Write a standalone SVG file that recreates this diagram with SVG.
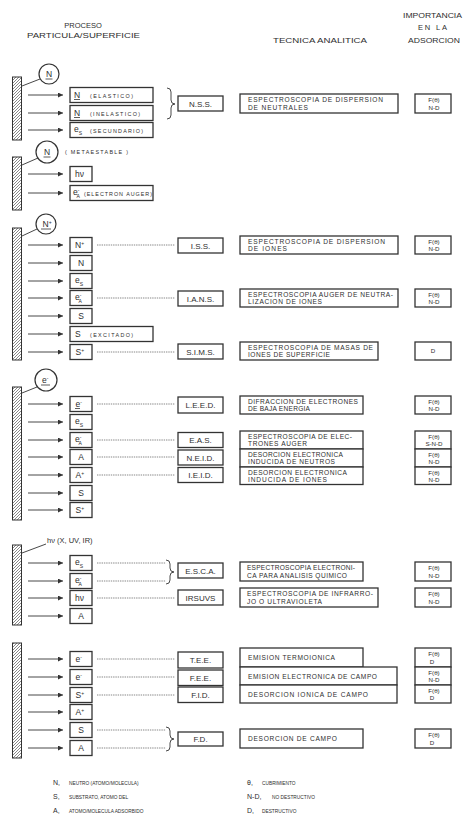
<svg xmlns="http://www.w3.org/2000/svg" width="465" height="818" viewBox="0 0 465 818">
<style>
.t{font-family:"Liberation Sans",Arial,sans-serif;fill:#2e2e2e}
.h{font-size:7.5px}
.sy{font-size:8.5px}
.sp{font-size:5px}
.sb{font-size:5px}
.pa{font-size:5.4px}
.ab{font-size:8px;text-anchor:middle}
.tx{font-size:6.6px}
.im{font-size:6.2px;text-anchor:middle}
.lg1{font-size:7px}
.lg2{font-size:4.8px}
.bx{fill:#fff;stroke:#333;stroke-width:1.3}
.bar{fill:url(#hatch);stroke:#333;stroke-width:1}
.cir{fill:#fff;stroke:#333;stroke-width:1.2}
.ul{stroke:#333;stroke-width:0.8}
.arr{stroke:#333;stroke-width:0.9;marker-end:url(#ah)}
.dot{stroke:#555;stroke-width:0.7;stroke-dasharray:1.4 0.9;fill:none}
.br{stroke:#333;stroke-width:0.9;fill:none}
.ln{stroke:#333;stroke-width:0.9}
</style>
<defs>
<pattern id="hatch" patternUnits="userSpaceOnUse" width="3" height="3"><path d="M-0.75,0.75 L0.75,-0.75 M0,3 L3,0 M2.25,3.75 L3.75,2.25" stroke="#555" stroke-width="0.7"/></pattern>
<marker id="ah" viewBox="0 0 10 10" refX="10" refY="5" markerUnits="userSpaceOnUse" markerWidth="8" markerHeight="5" orient="auto"><path d="M0,0 L10,5 L0,10 z" fill="#333"/></marker>
</defs>
<rect width="465" height="818" fill="#fff"/>

<g id="header">
<text class="t h" x="83" y="28" text-anchor="middle">PROCESO</text>
<text class="t h" x="27" y="38" textLength="113" lengthAdjust="spacingAndGlyphs">PARTICULA/SUPERFICIE</text>
<text class="t h" x="273" y="43" textLength="94" lengthAdjust="spacingAndGlyphs">TECNICA  ANALITICA</text>
<text class="t h" x="403" y="18" textLength="59" lengthAdjust="spacingAndGlyphs">IMPORTANCIA</text>
<text class="t h" x="418" y="30" textLength="29" lengthAdjust="spacing">EN LA</text>
<text class="t h" x="408" y="43" textLength="52" lengthAdjust="spacingAndGlyphs">ADSORCION</text>
</g>

<g id="connectors">
<line class="ln" x1="40" y1="79" x2="22" y2="86"/>
<line class="ln" x1="38" y1="158" x2="22" y2="165"/>
<line class="ln" x1="37" y1="229" x2="22" y2="236"/>
<line class="ln" x1="37" y1="387" x2="22" y2="393"/>
<line class="ln" x1="46" y1="544" x2="22" y2="553"/>
<line class="arr" x1="28" y1="95" x2="63" y2="95"/>
<line class="arr" x1="28" y1="113" x2="63" y2="113"/>
<line class="arr" x1="28" y1="130" x2="63" y2="130"/>
<line class="arr" x1="28" y1="174" x2="63" y2="174"/>
<line class="arr" x1="28" y1="193" x2="63" y2="193"/>
<line class="arr" x1="28" y1="245" x2="63" y2="245"/>
<line class="arr" x1="28" y1="263" x2="63" y2="263"/>
<line class="arr" x1="28" y1="281" x2="63" y2="281"/>
<line class="arr" x1="28" y1="298" x2="63" y2="298"/>
<line class="arr" x1="28" y1="316" x2="63" y2="316"/>
<line class="arr" x1="28" y1="334" x2="63" y2="334"/>
<line class="arr" x1="28" y1="352" x2="63" y2="352"/>
<line class="arr" x1="28" y1="404" x2="63" y2="404"/>
<line class="arr" x1="28" y1="422" x2="63" y2="422"/>
<line class="arr" x1="28" y1="440" x2="63" y2="440"/>
<line class="arr" x1="28" y1="457" x2="63" y2="457"/>
<line class="arr" x1="28" y1="475" x2="63" y2="475"/>
<line class="arr" x1="28" y1="493" x2="63" y2="493"/>
<line class="arr" x1="28" y1="510" x2="63" y2="510"/>
<line class="arr" x1="28" y1="563" x2="63" y2="563"/>
<line class="arr" x1="28" y1="581" x2="63" y2="581"/>
<line class="arr" x1="28" y1="598" x2="63" y2="598"/>
<line class="arr" x1="28" y1="616" x2="63" y2="616"/>
<line class="arr" x1="28" y1="659" x2="63" y2="659"/>
<line class="arr" x1="28" y1="677" x2="63" y2="677"/>
<line class="arr" x1="28" y1="695" x2="63" y2="695"/>
<line class="arr" x1="28" y1="712" x2="63" y2="712"/>
<line class="arr" x1="28" y1="730" x2="63" y2="730"/>
<line class="arr" x1="28" y1="748" x2="63" y2="748"/>
<line class="dot" x1="97" y1="245" x2="175" y2="245"/>
<line class="dot" x1="97" y1="298" x2="175" y2="298"/>
<line class="dot" x1="97" y1="352" x2="175" y2="352"/>
<line class="dot" x1="97" y1="404" x2="175" y2="404"/>
<line class="dot" x1="97" y1="440" x2="175" y2="440"/>
<line class="dot" x1="97" y1="457" x2="175" y2="457"/>
<line class="dot" x1="97" y1="475" x2="175" y2="475"/>
<line class="dot" x1="97" y1="563" x2="166" y2="563"/>
<line class="dot" x1="97" y1="581" x2="166" y2="581"/>
<line class="dot" x1="97" y1="598" x2="175" y2="598"/>
<line class="dot" x1="97" y1="659" x2="175" y2="659"/>
<line class="dot" x1="97" y1="677" x2="175" y2="677"/>
<line class="dot" x1="97" y1="695" x2="175" y2="695"/>
<line class="dot" x1="97" y1="730" x2="166" y2="730"/>
<line class="dot" x1="97" y1="748" x2="166" y2="748"/>
<path class="br" d="M167,88 Q171,88 171,92 L171,100 Q171,104 175,104 Q171,104 171,108 L171,115 Q171,119 167,119"/>
<path class="br" d="M166,560 Q170,560 170,564 L170,568 Q170,572 174,572 Q170,572 170,576 L170,580 Q170,584 166,584"/>
<path class="br" d="M166,727 Q170,727 170,731 L170,735 Q170,739 174,739 Q170,739 170,743 L170,747 Q170,751 166,751"/>
</g>

<g id="particles">
<g id="p-N"><circle class="cir" cx="49" cy="74" r="10"/><text class="t sy" x="49" y="77" text-anchor="middle">N</text><line class="ul" x1="45.5" y1="79" x2="52.5" y2="79"/></g>
<g id="p-Nmeta"><circle class="cir" cx="47" cy="152" r="11"/><text class="t sy" x="47" y="155" text-anchor="middle">N</text><line class="ul" x1="43.5" y1="157" x2="50.5" y2="157"/><text class="t pa" x="65" y="154" textLength="63" lengthAdjust="spacing">( METAESTABLE )</text></g>
<g id="p-Nplus"><circle class="cir" cx="46" cy="224" r="10"/><text class="t sy" x="42.5" y="227">N<tspan class="sp" dy="-3">+</tspan></text><line class="ul" x1="41" y1="229" x2="51" y2="229"/></g>
<g id="p-e"><circle class="cir" cx="46" cy="380" r="11"/><text class="t sy" x="42" y="383">e<tspan class="sp" dy="-3">-</tspan></text><line class="ul" x1="41" y1="385" x2="50" y2="385"/></g>
<g id="p-hv"><text class="t" x="47" y="543" font-size="7.5">hν (X, UV, IR)</text></g>
</g>

<g id="surfaces">
<rect id="bar1" class="bar" x="12.5" y="77" width="9" height="63"/>
<rect id="bar2" class="bar" x="12.5" y="157" width="9" height="53"/>
<rect id="bar3" class="bar" x="12.5" y="228" width="9" height="132"/>
<rect id="bar4" class="bar" x="12.5" y="387" width="9" height="133"/>
<rect id="bar5" class="bar" x="12.5" y="545" width="9" height="80"/>
<rect id="bar6" class="bar" x="12.5" y="643" width="9" height="115"/>
</g>

<g id="products">
<g id="s1r1"><rect class="bx" x="70" y="87.5" width="83" height="15"/><text class="t sy" x="74" y="98">N</text><line class="ul" x1="74" y1="99.5" x2="80" y2="99.5"/><text class="t pa" x="90" y="97.5" textLength="43" lengthAdjust="spacing">(ELASTICO)</text></g>
<g id="s1r2"><rect class="bx" x="70" y="105.5" width="83" height="15"/><text class="t sy" x="74" y="116">N</text><line class="ul" x1="74" y1="117.5" x2="80" y2="117.5"/><text class="t pa" x="90" y="115.5" textLength="50" lengthAdjust="spacing">(INELASTICO)</text></g>
<g id="s1r3"><rect class="bx" x="70" y="122.5" width="83" height="15"/><text class="t sy" x="74" y="132">e<tspan class="sb" dy="2.5">S</tspan></text><text class="t pa" x="90" y="132.5" textLength="53" lengthAdjust="spacing">(SECUNDARIO)</text></g>
<g id="s2r1"><rect class="bx" x="70" y="166.5" width="22" height="15"/><text class="t sy" x="75" y="177">hν</text></g>
<g id="s2r2"><rect class="bx" x="70" y="185.5" width="83" height="15"/><text class="t sy" x="73" y="195">e<tspan class="sp" dy="-3">-</tspan><tspan class="sb" dx="-3" dy="6">A</tspan></text><text class="t pa" x="84" y="195.5" textLength="68" lengthAdjust="spacing">(ELECTRON AUGER)</text></g>
<g id="s3r1"><rect class="bx" x="70" y="237.5" width="22" height="15"/><text class="t sy" x="75" y="248">N<tspan class="sp" dy="-3">+</tspan></text></g>
<g id="s3r2"><rect class="bx" x="70" y="255.5" width="22" height="15"/><text class="t sy" x="81" y="266" text-anchor="middle">N</text></g>
<g id="s3r3"><rect class="bx" x="70" y="273.5" width="22" height="15"/><text class="t sy" x="75" y="283">e<tspan class="sb" dy="2.5">S</tspan></text></g>
<g id="s3r4"><rect class="bx" x="70" y="290.5" width="22" height="15"/><text class="t sy" x="75" y="300">e<tspan class="sp" dy="-3">-</tspan><tspan class="sb" dx="-3" dy="6">A</tspan></text></g>
<g id="s3r5"><rect class="bx" x="70" y="308.5" width="22" height="15"/><text class="t sy" x="81" y="319" text-anchor="middle">S</text></g>
<g id="s3r6"><rect class="bx" x="70" y="326.5" width="83" height="15"/><text class="t sy" x="75" y="337">S</text><text class="t pa" x="90" y="336.5" textLength="43" lengthAdjust="spacing">(EXCITADO)</text></g>
<g id="s3r7"><rect class="bx" x="70" y="344.5" width="22" height="15"/><text class="t sy" x="75.5" y="355">S<tspan class="sp" dy="-3">+</tspan></text></g>
<g id="s4r1"><rect class="bx" x="70" y="396.5" width="22" height="15"/><text class="t sy" x="75.5" y="407">e<tspan class="sp" dy="-3">-</tspan></text><line class="ul" x1="75" y1="408.5" x2="80" y2="408.5"/></g>
<g id="s4r2"><rect class="bx" x="70" y="414.5" width="22" height="15"/><text class="t sy" x="75" y="424">e<tspan class="sb" dy="2.5">S</tspan></text></g>
<g id="s4r3"><rect class="bx" x="70" y="432.5" width="22" height="15"/><text class="t sy" x="75" y="442">e<tspan class="sp" dy="-3">-</tspan><tspan class="sb" dx="-3" dy="6">A</tspan></text></g>
<g id="s4r4"><rect class="bx" x="70" y="449.5" width="22" height="15"/><text class="t sy" x="81" y="460" text-anchor="middle">A</text></g>
<g id="s4r5"><rect class="bx" x="70" y="467.5" width="22" height="15"/><text class="t sy" x="75.5" y="478">A<tspan class="sp" dy="-3">+</tspan></text></g>
<g id="s4r6"><rect class="bx" x="70" y="485.5" width="22" height="15"/><text class="t sy" x="81" y="496" text-anchor="middle">S</text></g>
<g id="s4r7"><rect class="bx" x="70" y="502.5" width="22" height="15"/><text class="t sy" x="75.5" y="513">S<tspan class="sp" dy="-3">+</tspan></text></g>
<g id="s5r1"><rect class="bx" x="70" y="555.5" width="22" height="15"/><text class="t sy" x="75" y="565">e<tspan class="sb" dy="2.5">S</tspan></text></g>
<g id="s5r2"><rect class="bx" x="70" y="573.5" width="22" height="15"/><text class="t sy" x="75" y="583">e<tspan class="sp" dy="-3">-</tspan><tspan class="sb" dx="-3" dy="6">A</tspan></text></g>
<g id="s5r3"><rect class="bx" x="70" y="590.5" width="22" height="15"/><text class="t sy" x="75" y="601">hν</text></g>
<g id="s5r4"><rect class="bx" x="70" y="608.5" width="22" height="15"/><text class="t sy" x="81" y="619" text-anchor="middle">A</text></g>
<g id="s6r1"><rect class="bx" x="70" y="651.5" width="22" height="15"/><text class="t sy" x="75.5" y="662">e<tspan class="sp" dy="-3">-</tspan></text></g>
<g id="s6r2"><rect class="bx" x="70" y="669.5" width="22" height="15"/><text class="t sy" x="75.5" y="680">e<tspan class="sp" dy="-3">-</tspan></text></g>
<g id="s6r3"><rect class="bx" x="70" y="687.5" width="22" height="15"/><text class="t sy" x="75.5" y="698">S<tspan class="sp" dy="-3">+</tspan></text></g>
<g id="s6r4"><rect class="bx" x="70" y="704.5" width="22" height="15"/><text class="t sy" x="75.5" y="715">A<tspan class="sp" dy="-3">+</tspan></text></g>
<g id="s6r5"><rect class="bx" x="70" y="722.5" width="22" height="15"/><text class="t sy" x="81" y="733" text-anchor="middle">S</text></g>
<g id="s6r6"><rect class="bx" x="70" y="740.5" width="22" height="15"/><text class="t sy" x="81" y="751" text-anchor="middle">A</text></g>
</g>

<g id="abbreviations">
<g id="NSS"><rect class="bx" x="178" y="96" width="45" height="15"/><text class="t ab" x="200.5" y="106.5">N.S.S.</text></g>
<g id="ISS"><rect class="bx" x="178" y="238" width="45" height="15"/><text class="t ab" x="200.5" y="248.5">I.S.S.</text></g>
<g id="IANS"><rect class="bx" x="178" y="291" width="45" height="15"/><text class="t ab" x="200.5" y="301.5">I.A.N.S.</text></g>
<g id="SIMS"><rect class="bx" x="178" y="344" width="45" height="15"/><text class="t ab" x="200.5" y="354.5">S.I.M.S.</text></g>
<g id="LEED"><rect class="bx" x="178" y="397" width="45" height="16"/><text class="t ab" x="200.5" y="408">L.E.E.D.</text></g>
<g id="EAS"><rect class="bx" x="178" y="432.5" width="45" height="15"/><text class="t ab" x="200.5" y="443">E.A.S.</text></g>
<g id="NEID"><rect class="bx" x="178" y="450" width="45" height="15"/><text class="t ab" x="200.5" y="460.5">N.E.I.D.</text></g>
<g id="IEID"><rect class="bx" x="178" y="467.5" width="45" height="15"/><text class="t ab" x="200.5" y="478">I.E.I.D.</text></g>
<g id="ESCA"><rect class="bx" x="178" y="563" width="45" height="15"/><text class="t ab" x="200.5" y="573.5">E.S.C.A.</text></g>
<g id="IRSUVS"><rect class="bx" x="178" y="590" width="45" height="15"/><text class="t ab" x="200.5" y="600.5">IRSUVS</text></g>
<g id="TEE"><rect class="bx" x="178" y="652" width="45" height="16"/><text class="t ab" x="200.5" y="663">T.E.E.</text></g>
<g id="FEE"><rect class="bx" x="178" y="670" width="45" height="15.5"/><text class="t ab" x="200.5" y="680.5">F.E.E.</text></g>
<g id="FID"><rect class="bx" x="178" y="687" width="45" height="15.5"/><text class="t ab" x="200.5" y="697.5">F.I.D.</text></g>
<g id="FD"><rect class="bx" x="178" y="732" width="45" height="14"/><text class="t ab" x="200.5" y="742">F.D.</text></g>
</g>

<g id="techniques">
<g id="t-NSS"><rect class="bx" x="240" y="94" width="158" height="19"/><text class="t tx" x="248" y="101.5" textLength="135" lengthAdjust="spacing">ESPECTROSCOPIA DE DISPERSION</text><text class="t tx" x="248" y="109.5" textLength="60" lengthAdjust="spacing">DE NEUTRALES</text></g>
<g id="t-ISS"><rect class="bx" x="240" y="236" width="158" height="18"/><text class="t tx" x="248" y="243.5" textLength="137" lengthAdjust="spacing">ESPECTROSCOPIA DE DISPERSION</text><text class="t tx" x="248" y="251" textLength="39" lengthAdjust="spacing">DE IONES</text></g>
<g id="t-IANS"><rect class="bx" x="240" y="289" width="158" height="18"/><text class="t tx" x="248" y="296.5" textLength="145" lengthAdjust="spacing">ESPECTROSCOPIA AUGER DE NEUTRA-</text><text class="t tx" x="248" y="304" textLength="74" lengthAdjust="spacing">LIZACION DE IONES</text></g>
<g id="t-SIMS"><rect class="bx" x="240" y="342" width="138" height="18"/><text class="t tx" x="248" y="349.5" textLength="125" lengthAdjust="spacing">ESPECTROSCOPIA DE MASAS DE</text><text class="t tx" x="248" y="357" textLength="82" lengthAdjust="spacing">IONES DE SUPERFICIE</text></g>
<g id="t-LEED"><rect class="bx" x="240" y="396" width="123" height="18"/><text class="t tx" x="248" y="403.5" textLength="110" lengthAdjust="spacing">DIFRACCION DE ELECTRONES</text><text class="t tx" x="248" y="411" textLength="62" lengthAdjust="spacing">DE BAJA ENERGIA</text></g>
<g id="t-EAS"><rect class="bx" x="240" y="431" width="123" height="18"/><text class="t tx" x="248" y="438.5" textLength="104" lengthAdjust="spacing">ESPECTROSCOPIA DE ELEC-</text><text class="t tx" x="248" y="446" textLength="59" lengthAdjust="spacing">TRONES AUGER</text></g>
<g id="t-NEID"><rect class="bx" x="240" y="449" width="123" height="18"/><text class="t tx" x="248" y="456.5" textLength="95" lengthAdjust="spacing">DESORCION ELECTRONICA</text><text class="t tx" x="248" y="464" textLength="87" lengthAdjust="spacing">INDUCIDA DE NEUTROS</text></g>
<g id="t-IEID"><rect class="bx" x="240" y="467" width="123" height="17.5"/><text class="t tx" x="248" y="474.5" textLength="99" lengthAdjust="spacing">DESORCION ELECTRONICA</text><text class="t tx" x="248" y="482" textLength="79" lengthAdjust="spacing">INDUCIDA DE IONES</text></g>
<g id="t-ESCA"><rect class="bx" x="240" y="562" width="123" height="19"/><text class="t tx" x="247" y="569.5" textLength="108" lengthAdjust="spacing">ESPECTROSCOPIA ELECTRONI-</text><text class="t tx" x="247" y="577.5" textLength="100" lengthAdjust="spacing">CA PARA ANALISIS QUIMICO</text></g>
<g id="t-IRSUVS"><rect class="bx" x="240" y="588" width="138" height="19"/><text class="t tx" x="247" y="595.5" textLength="126" lengthAdjust="spacing">ESPECTROSCOPIA DE INFRARRO-</text><text class="t tx" x="247" y="603.5" textLength="75" lengthAdjust="spacing">JO O ULTRAVIOLETA</text></g>
<g id="t-TEE"><rect class="bx" x="240" y="648" width="123" height="19"/><text class="t tx" x="248" y="660" textLength="87" lengthAdjust="spacing">EMISION TERMOIONICA</text></g>
<g id="t-FEE"><rect class="bx" x="240" y="667" width="157" height="18"/><text class="t tx" x="248" y="678.5" textLength="129" lengthAdjust="spacing">EMISION ELECTRONICA DE CAMPO</text></g>
<g id="t-FID"><rect class="bx" x="240" y="685" width="157" height="18"/><text class="t tx" x="248" y="696.5" textLength="120" lengthAdjust="spacing">DESORCION IONICA DE CAMPO</text></g>
<g id="t-FD"><rect class="bx" x="240" y="729" width="123" height="19"/><text class="t tx" x="248" y="741" textLength="89" lengthAdjust="spacing">DESORCION DE CAMPO</text></g>
</g>

<g id="importance">
<g id="i1"><rect class="bx" x="415" y="94" width="36" height="19"/><text class="t im" x="434" y="101.5">F(θ)</text><text class="t im" x="434" y="109.5">N-D</text></g>
<g id="i2"><rect class="bx" x="415" y="236" width="36" height="18"/><text class="t im" x="434" y="243.5">F(θ)</text><text class="t im" x="434" y="251">N-D</text></g>
<g id="i3"><rect class="bx" x="415" y="289" width="36" height="18"/><text class="t im" x="434" y="296.5">F(θ)</text><text class="t im" x="434" y="304">N-D</text></g>
<g id="i4"><rect class="bx" x="415" y="342" width="36" height="18"/><text class="t im" x="433" y="353">D</text></g>
<g id="i5"><rect class="bx" x="415" y="396" width="36" height="18"/><text class="t im" x="434" y="403.5">F(θ)</text><text class="t im" x="434" y="411">N-D</text></g>
<g id="i6"><rect class="bx" x="415" y="431" width="36" height="18"/><text class="t im" x="434" y="438.5">F(θ)</text><text class="t im" x="434" y="446">S-N-D</text></g>
<g id="i7"><rect class="bx" x="415" y="449" width="36" height="18"/><text class="t im" x="434" y="456.5">F(θ)</text><text class="t im" x="434" y="464">N-D</text></g>
<g id="i8"><rect class="bx" x="415" y="467" width="36" height="17.5"/><text class="t im" x="434" y="474.5">F(θ)</text><text class="t im" x="434" y="482">N-D</text></g>
<g id="i9"><rect class="bx" x="415" y="562" width="36" height="19"/><text class="t im" x="434" y="569.5">F(θ)</text><text class="t im" x="434" y="577.5">N-D</text></g>
<g id="i10"><rect class="bx" x="415" y="588" width="36" height="19"/><text class="t im" x="434" y="595.5">F(θ)</text><text class="t im" x="434" y="603.5">N-D</text></g>
<g id="i11"><rect class="bx" x="415" y="648" width="36" height="19"/><text class="t im" x="434" y="655.5">F(θ)</text><text class="t im" x="432" y="663.5">D</text></g>
<g id="i12"><rect class="bx" x="415" y="667" width="36" height="18"/><text class="t im" x="434" y="674.5">F(θ)</text><text class="t im" x="434" y="682">N-D</text></g>
<g id="i13"><rect class="bx" x="415" y="685" width="36" height="18"/><text class="t im" x="434" y="692.5">F(θ)</text><text class="t im" x="432" y="700">D</text></g>
<g id="i14"><rect class="bx" x="415" y="729" width="36" height="19"/><text class="t im" x="434" y="736.5">F(θ)</text><text class="t im" x="432" y="744.5">D</text></g>
</g>

<g id="legend">
<text class="t lg1" x="53" y="785">N,<tspan class="lg2" x="69">NEUTRO (ATOMO/MOLECULA)</tspan></text>
<text class="t lg1" x="53" y="799">S,<tspan class="lg2" x="69">SUBSTRATO, ATOMO DEL</tspan></text>
<text class="t lg1" x="53" y="813">A,<tspan class="lg2" x="69">ATOMO/MOLECULA ADSORBIDO</tspan></text>
<text class="t lg1" x="247" y="785">θ,<tspan class="lg2" x="262">CUBRIMIENTO</tspan></text>
<text class="t lg1" x="247" y="799">N-D,<tspan class="lg2" x="272">NO DESTRUCTIVO</tspan></text>
<text class="t lg1" x="247" y="813">D,<tspan class="lg2" x="262">DESTRUCTIVO</tspan></text>
</g>
</svg>
